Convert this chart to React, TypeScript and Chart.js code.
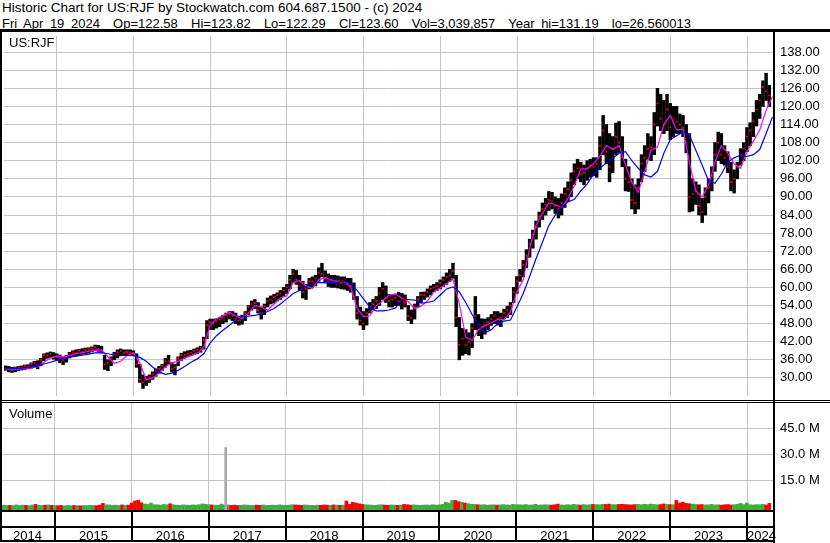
import React, { useEffect, useRef } from "react";
import { Chart, registerables } from "chart.js";

Chart.register(...registerables);

const FONT = "'Liberation Sans', Arial, Helvetica, sans-serif";
const GRID = "#c4c4c4";

const TITLE = "Historic Chart for US:RJF by Stockwatch.com 604.687.1500 - (c) 2024";
const SUBTITLE =
  "Fri Apr 19 2024  Op=122.58  Hi=123.82  Lo=122.29  Cl=123.60  Vol=3,039,857  Year hi=131.19  lo=26.560013";
const SYMBOL = "US:RJF";
const VOLUME_TITLE = "Volume";

const YEAR_LABELS = [2014, 2015, 2016, 2017, 2018, 2019, 2020, 2021, 2022, 2023, 2024];
const YEAR_BOUNDARIES = [2015, 2016, 2017, 2018, 2019, 2020, 2021, 2022, 2023, 2024];
const PRICE_TICKS = [30, 36, 42, 48, 54, 60, 66, 72, 78, 84, 90, 96, 102, 108, 114, 120, 126, 132, 138];
const VOLUME_TICKS = [15, 30, 45];

// time axis (decimal years) and value ranges
const T_START = 2014.3107;
const T_END = 2024.3381;
const PERIODS_PER_YEAR = 24; // semi-monthly bars
const PRICE_MIN = 24.0;
const PRICE_MAX = 143.35;
const VOL_MIN = -2.02;
const VOL_MAX = 59.7;

// semi-monthly high / low / close, by year
const HIGH_2014 = [34, 33.8, 33.5, 33.6, 33.8, 34, 34.3, 34.4, 35, 35.5, 35.7, 36.5, 38, 38.3, 38.6, 38.4, 38];
const LOW_2014 = [32.5, 32, 31.8, 32, 32.4, 32.6, 32.8, 33, 33.2, 33.5, 33, 34, 35.7, 36.5, 36.8, 36.2, 35.8];
const CLOSE_2014 = [33, 33, 32.6, 33.2, 33.4, 33.5, 34, 33.6, 34.5, 35, 34.2, 36, 37.5, 37.4, 38, 37, 37.2];

const HIGH_2015 = [37.6, 37, 37.5, 38.5, 39, 39.3, 39.5, 39.7, 39.9, 40, 40.3, 40.9, 40.8, 40.5, 37.5, 36, 37, 38.5, 39.3, 39.6, 39.3, 39.3, 39.3, 39];
const LOW_2015 = [35, 34.4, 35.2, 36.6, 37, 37.2, 37.5, 37.8, 38, 38.2, 38.6, 39, 38.8, 38.3, 32.8, 32.4, 34, 36, 36.6, 37.3, 37.5, 37.6, 37.8, 37.4];
const CLOSE_2015 = [36.2, 36, 37, 37.8, 38.4, 38.2, 39, 38.6, 39.2, 39.5, 39.8, 40.2, 39.6, 39, 34.5, 35, 36.5, 37.8, 38.5, 38.9, 38.3, 38.6, 38.5, 38];

const HIGH_2016 = [38, 34.5, 31, 30.5, 31, 32, 33, 33.8, 34.5, 36.5, 37.5, 35, 34.5, 37, 38.2, 38.7, 39, 39.2, 39.6, 40, 40.5, 43.5, 49, 49.5];
const LOW_2016 = [33.5, 28.5, 26.5, 27.5, 28.5, 29.5, 30.5, 31.5, 32.5, 33.5, 34.5, 32, 31, 34, 35.8, 36.5, 37, 37.5, 37.8, 38, 38.5, 39.5, 43, 46];
const CLOSE_2016 = [34.5, 29.5, 28.5, 29.5, 30.2, 31.2, 32.3, 33, 34, 35.5, 35.5, 33, 33.5, 36.5, 37.5, 37.5, 38, 38.4, 39, 39.3, 39.8, 42.5, 47.5, 48.5];

const HIGH_2017 = [49.5, 49.6, 50, 50.8, 51.5, 52, 52, 51.5, 50.5, 50.8, 52, 54, 55.5, 56, 55, 53.5, 54.5, 56.5, 57.2, 57.7, 58.2, 59, 60, 61];
const LOW_2017 = [46, 46.5, 47, 48, 48.5, 49.5, 49, 48, 47.5, 47.8, 49, 51, 52.5, 53, 51.5, 49.5, 51, 53.5, 54.5, 54.8, 55.5, 56, 57, 58];
const CLOSE_2017 = [48.2, 48.8, 49.3, 50, 50.8, 51.2, 50.6, 49.5, 49, 50, 51.5, 53.5, 54.5, 54.8, 52.5, 51.5, 53.8, 55.5, 56, 56.8, 57.5, 58, 59, 60];

const HIGH_2018 = [64, 66, 65.6, 64, 62, 61, 63, 63.5, 64, 66.5, 68, 65.5, 64.5, 64, 64, 63.8, 63.5, 63.5, 63, 63, 61.5, 57, 53.5, 52];
const LOW_2018 = [59.5, 61.5, 61, 59, 56.5, 56, 59.5, 60, 60.5, 62, 63.5, 61.5, 60.3, 60, 60, 59.8, 59.5, 59.4, 59, 58.4, 56, 49.5, 47.5, 46];
const CLOSE_2018 = [62.5, 64.5, 62.5, 60.5, 58.5, 59.5, 62, 62, 63, 65, 64.5, 63, 62, 62.5, 61.8, 62, 61.5, 61.8, 61, 60.5, 57, 51.5, 49, 48];

const HIGH_2019 = [53, 55, 56, 57, 60, 61.6, 60.5, 57.7, 57.5, 57.8, 58.4, 58, 57.5, 54, 52.5, 54.5, 57, 58.4, 58.5, 59.5, 60.5, 61, 61.6, 62.5];
const LOW_2019 = [47.5, 51.5, 52.5, 53, 54, 56, 55, 53.5, 53.5, 54, 54, 52.8, 53.5, 49, 48, 49.5, 53.5, 55, 56, 56.8, 57.5, 58.5, 59, 59.5];
const CLOSE_2019 = [51.5, 53.5, 54.5, 55.5, 58, 59.5, 56.5, 55.5, 56, 56.5, 55.5, 56, 55, 50.5, 50, 53.5, 56, 57.5, 57.5, 58.5, 59.5, 60, 60.5, 61.5];

const HIGH_2020 = [63.5, 64.8, 66, 68, 64, 50, 46.4, 46, 45, 48, 57, 51, 49.6, 49.5, 50, 51, 52, 52, 51.5, 52.8, 53.8, 55, 60, 63.6];
const LOW_2020 = [60.3, 61, 62, 63, 47, 36, 37.5, 38, 37.6, 40, 46, 44, 43, 44.5, 46, 47.4, 48, 47.5, 47, 49.6, 50, 51, 55, 58];
const CLOSE_2020 = [62.5, 63.5, 64, 65.5, 50, 41, 43, 41, 42, 46.5, 50.5, 46, 47, 47.5, 48.5, 49.5, 50.5, 49.5, 50, 51.5, 52.5, 54, 58.5, 62];

const HIGH_2021 = [66, 69, 72.5, 76, 79, 82, 85, 88, 89.5, 91.8, 91.5, 90, 89.5, 91, 93, 95, 98, 101, 102.5, 101.5, 100.6, 102, 102.5, 103];
const LOW_2021 = [62, 63.5, 66.5, 70, 73, 76, 80, 82.5, 84, 85.5, 86, 84.5, 83, 84, 86.5, 88.5, 90, 94, 96, 95, 94, 95.5, 96.5, 97];
const CLOSE_2021 = [64, 67.5, 70.5, 74.5, 77.5, 80, 83.5, 86, 87.5, 89, 88.5, 87, 86, 88, 91, 92.5, 95.5, 98.5, 99.5, 97.5, 98, 99.5, 100.5, 100];

const HIGH_2022 = [103, 110, 117, 114, 111, 110, 114.5, 115, 110, 102.5, 100, 96, 94, 96, 104, 107, 111, 110, 118, 126, 124, 122, 124, 121];
const LOW_2022 = [96.5, 99, 104, 101, 95, 98, 104, 104.7, 100, 92, 91.8, 86, 84.4, 86, 95, 98.4, 102.5, 102, 104, 113.5, 112, 111, 112, 109];
const CLOSE_2022 = [101, 107, 112, 105, 100, 106, 110, 108, 103, 96, 95, 89, 88, 93, 101, 103, 106, 106.5, 114, 121, 116, 114, 119, 113];

const HIGH_2023 = [120, 120, 117.5, 117, 114, 111, 96, 95, 94, 89.5, 93, 96, 100, 108, 111.5, 111, 107, 105, 101.5, 99, 101.5, 106, 108, 113];
const LOW_2023 = [110, 111, 111, 110, 104.6, 85, 85.3, 87.5, 84, 81.5, 84, 88, 92, 98.5, 102, 101, 100.5, 98, 92, 91.3, 96, 100.5, 102, 105];
const CLOSE_2023 = [116, 115, 114, 113, 108, 90, 91, 92, 87, 85, 90, 93, 97, 104, 108, 104, 103, 100, 95, 96, 100, 104, 106, 110];

const HIGH_2024 = [114.6, 118, 122, 124, 128.5, 131, 127];
const LOW_2024 = [107, 110, 113.5, 116, 120, 122, 120];
const CLOSE_2024 = [112, 115, 119, 122, 126.5, 125, 123.6];

// volume (millions), by year
const VOL_2014 = [0.8, 0.6, 0.7, 0.5, 0.9, 0.6, 0.8, 0.7, 0.5, 0.9, 1.2, 0.7, 0.6, 0.8, 0.9, 0.7, 0.6];
const VOL_2015 = [0.5, 0.6, 0.4, 0.7, 0.5, 0.6, 0.5, 0.4, 0.6, 0.5, 0.7, 0.6, 0.5, 0.8, 1.8, 1.0, 0.9, 0.7, 0.8, 0.6, 0.9, 0.7, 0.8, 2.0];
const VOL_2016 = [3.2, 3.6, 2.2, 1.5, 1.2, 2.0, 1.0, 1.0, 0.8, 1.2, 1.0, 1.6, 1.0, 0.8, 0.7, 0.9, 0.8, 0.7, 0.9, 0.8, 1.0, 1.5, 1.3, 1.0];
const VOL_2017 = [0.9, 0.8, 0.7, 1.4, 0.8, 0.9, 0.7, 0.8, 0.6, 0.7, 0.9, 0.8, 0.7, 0.6, 0.8, 0.7, 0.9, 0.6, 0.7, 0.8, 0.7, 0.9, 0.8, 0.7];
const VOL_2018 = [0.8, 1.0, 0.9, 0.8, 0.7, 0.9, 0.8, 0.7, 0.6, 0.8, 0.7, 0.9, 0.8, 0.7, 0.9, 0.8, 0.7, 0.8, 3.2, 1.2, 2.4, 2.0, 1.6, 1.2];
const VOL_2019 = [1.0, 0.9, 0.8, 0.7, 0.9, 1.0, 0.8, 0.7, 0.9, 0.8, 0.7, 0.8, 1.2, 1.0, 0.8, 0.9, 0.8, 0.7, 0.8, 0.9, 0.8, 1.0, 0.8, 0.9];
const VOL_2020 = [1.2, 2.5, 2.0, 3.5, 3.5, 2.8, 2.5, 2.0, 1.6, 1.3, 1.2, 1.0, 0.9, 1.0, 0.8, 0.9, 1.0, 0.8, 0.9, 1.1, 0.9, 0.8, 1.2, 1.0];
const VOL_2021 = [1.0, 0.9, 1.1, 0.8, 0.9, 1.3, 0.8, 0.9, 1.0, 0.9, 0.8, 1.0, 1.4, 0.9, 0.8, 1.0, 0.9, 1.2, 1.0, 0.8, 1.1, 0.9, 1.0, 1.2];
const VOL_2022 = [1.1, 1.0, 1.3, 1.2, 1.4, 1.1, 1.0, 1.2, 1.3, 1.1, 1.0, 0.9, 1.1, 1.2, 1.0, 1.3, 1.1, 1.4, 1.2, 1.0, 1.1, 1.5, 1.2, 1.1];
const VOL_2023 = [1.0, 3.5, 2.0, 2.5, 1.8, 1.6, 1.4, 1.2, 1.0, 1.1, 0.9, 1.0, 1.2, 0.9, 1.0, 0.8, 1.0, 1.1, 0.9, 1.0, 1.2, 1.8, 1.1, 2.0];
const VOL_2024 = [1.0, 0.9, 1.1, 1.0, 1.2, 0.9, 1.8];

// one unusual single-day volume (grey bar) in 2017
const SPIKE_TIME = 2017.22;
const SPIKE_VOL = 34.0;

// moving averages, monthly samples
const MA_FAST = [
  32.8, 32.8, 32.9, 33.1, 33.3, 33.6, 35.2, 36.6, 37.2, 37.0,
  37.4, 38.0, 38.4, 38.8, 39.2, 39.2, 37.0, 34.8, 35.5, 37.4,
  38.3, 35.0, 29.4, 30.0, 31.5, 33.7, 35.0, 35.5, 36.6, 37.4,
  38.2, 40.0, 47.5, 49.6, 50.6, 51.8, 50.6, 49.7, 51.5, 54.0,
  53.5, 52.4, 54.5, 56.5, 57.2, 61.6, 62.2, 60.5, 59.6, 62.5,
  63.3, 62.3, 62.0, 62.0, 60.0, 53.0, 50.3, 50.6, 53.9, 55.5,
  57.5, 57.8, 56.5, 55.3, 52.9, 53.8, 55.5, 58.5, 59.8, 61.3,
  62.8, 54.5, 43.5, 42.5, 46.0, 47.3, 48.3, 49.4, 49.3, 51.9,
  58.5, 62.6, 73.0, 80.5, 84.5, 88.0, 87.5, 86.5, 89.5, 93.8,
  99.3, 99.3, 101.0, 103.5, 107.0, 105.8, 107.0, 100.6, 94.8, 91.5,
  98.3, 105.5, 106.5, 114.0, 117.0, 112.2, 112.5, 101.5, 92.0, 90.0,
  94.0, 101.5, 107.0, 104.5, 101.0, 99.5, 105.0, 108.5, 112.2, 118.7,
  123.3,
];
const MA_SLOW = [
  33.0, 33.1, 33.2, 33.3, 33.6, 34.0, 34.6, 35.2, 35.8, 36.4,
  36.9, 37.2, 37.5, 37.9, 38.3, 38.4, 38.0, 37.6, 37.5, 37.5,
  37.4, 36.8, 35.5, 33.6, 32.0, 31.2, 31.6, 32.5, 33.8, 35.2,
  36.3, 38.0, 41.5, 44.0, 45.8, 47.4, 49.2, 50.2, 50.5, 50.7,
  51.2, 52.0, 53.0, 54.5, 56.2, 58.0, 59.0, 60.3, 61.3, 61.6,
  61.6, 61.6, 61.8, 62.0, 61.3, 59.0, 56.2, 53.5, 52.2, 52.2,
  52.5, 53.2, 56.0, 56.0, 55.8, 54.8, 55.0, 55.5, 57.5, 59.5,
  60.2, 58.5, 55.0, 51.0, 47.5, 45.0, 46.0, 48.0, 48.8, 49.2,
  53.5, 58.0, 63.6, 69.5, 75.0, 80.5, 84.0, 86.8, 88.3, 89.2,
  92.0, 94.3, 97.5, 99.6, 101.2, 102.8, 104.5, 105.0, 102.0, 99.5,
  97.3, 96.6, 98.5, 104.5, 109.0, 110.3, 111.5, 110.5, 105.5, 100.5,
  95.3, 94.5, 97.6, 101.5, 103.0, 103.8, 103.4, 104.0, 105.7, 111.0,
  116.5,
];

const HIGHS = [HIGH_2014, HIGH_2015, HIGH_2016, HIGH_2017, HIGH_2018, HIGH_2019, HIGH_2020, HIGH_2021, HIGH_2022, HIGH_2023, HIGH_2024].flat();
const LOWS = [LOW_2014, LOW_2015, LOW_2016, LOW_2017, LOW_2018, LOW_2019, LOW_2020, LOW_2021, LOW_2022, LOW_2023, LOW_2024].flat();
const CLOSES = [CLOSE_2014, CLOSE_2015, CLOSE_2016, CLOSE_2017, CLOSE_2018, CLOSE_2019, CLOSE_2020, CLOSE_2021, CLOSE_2022, CLOSE_2023, CLOSE_2024].flat();
const VOLUMES = [VOL_2014, VOL_2015, VOL_2016, VOL_2017, VOL_2018, VOL_2019, VOL_2020, VOL_2021, VOL_2022, VOL_2023, VOL_2024].flat();

// layout (pixels)
const W = 830;
const H = 543;
const PLOT_LEFT = 2;
const PLOT_RIGHT = 773;
const AXIS_W = W - PLOT_RIGHT;
const PRICE_TOP = 32;
const PRICE_H = 368;
const VOL_TOP = 403;
const VOL_H = 107;

const periodTime = (i: number) => T_START + (i + 0.5) / PERIODS_PER_YEAR;
const maTime = (j: number) => T_START + (2 * j + 0.5) / PERIODS_PER_YEAR;
const timeToPx = (t: number) => PLOT_LEFT + ((t - T_START) / (T_END - T_START)) * (PLOT_RIGHT - PLOT_LEFT);

function xScale(): any {
  return {
    type: "linear",
    min: T_START,
    max: T_END,
    offset: false,
    afterBuildTicks: (s: any) => {
      s.ticks = YEAR_BOUNDARIES.map((v) => ({ value: v }));
    },
    ticks: { display: false },
    grid: { color: GRID, lineWidth: 1, drawTicks: false, offset: false },
    border: { display: false },
    afterFit: (s: any) => {
      s.height = 0;
      s.paddingLeft = 0;
      s.paddingRight = 0;
    },
  };
}

function yScale(min: number, max: number, ticks: number[], fmt: (v: number) => string): any {
  return {
    type: "linear",
    position: "right",
    min,
    max,
    afterBuildTicks: (s: any) => {
      s.ticks = ticks.map((v) => ({ value: v }));
    },
    ticks: {
      color: "#000",
      font: { family: FONT, size: 13 },
      padding: 7,
      autoSkip: false,
      callback: (v: any) => fmt(Number(v)),
    },
    grid: { color: GRID, lineWidth: 1, drawTicks: false },
    border: { display: false },
    afterFit: (s: any) => {
      s.width = AXIS_W;
      s.paddingTop = 0;
      s.paddingBottom = 0;
    },
  };
}

const commonOptions = {
  animation: false as const,
  responsive: false,
  maintainAspectRatio: false,
  devicePixelRatio: 1,
  layout: { padding: { left: PLOT_LEFT, right: 0, top: 0, bottom: 0 } },
  plugins: { legend: { display: false }, tooltip: { enabled: false } },
  events: [] as any[],
};

function priceConfig(): any {
  const bars = CLOSES.map((_, i) => ({ x: periodTime(i), y: [LOWS[i], HIGHS[i]] }));
  const closes = CLOSES.map((c, i) => ({ x: periodTime(i), y: c }));
  const fast = MA_FAST.map((v, j) => ({ x: maTime(j), y: v }));
  const slow = MA_SLOW.map((v, j) => ({ x: maTime(j), y: v }));
  return {
    type: "bar",
    data: {
      datasets: [
        { type: "line", data: slow, borderColor: "#0000ff", borderWidth: 1.2, pointRadius: 0, tension: 0, order: 0 },
        { type: "line", data: fast, borderColor: "#ff00ff", borderWidth: 1.2, pointRadius: 0, tension: 0, order: 1 },
        {
          type: "line",
          data: closes,
          showLine: false,
          pointStyle: "rect",
          pointRadius: 1.3,
          pointBorderWidth: 0,
          pointBackgroundColor: "#ff0000",
          order: 2,
        },
        { type: "bar", data: bars, backgroundColor: "#000000", barThickness: 2.8, grouped: false, order: 3 },
      ],
    },
    options: {
      ...commonOptions,
      scales: {
        x: xScale(),
        y: yScale(PRICE_MIN, PRICE_MAX, PRICE_TICKS, (v) => v.toFixed(2)),
      },
    },
  };
}

function volumeConfig(): any {
  const bars = VOLUMES.map((v, i) => ({ x: periodTime(i), y: [VOL_MIN, v] }));
  const colors = VOLUMES.map((_, i) => (i > 0 && CLOSES[i] < CLOSES[i - 1] ? "#ff0000" : "#3cae3c"));
  return {
    type: "bar",
    data: {
      datasets: [
        {
          type: "bar",
          data: [{ x: SPIKE_TIME, y: [VOL_MIN, SPIKE_VOL] }],
          backgroundColor: "#a8a8a8",
          barThickness: 2,
          grouped: false,
          order: 0,
        },
        { type: "bar", data: bars, backgroundColor: colors, barThickness: 3, grouped: false, order: 1 },
      ],
    },
    options: {
      ...commonOptions,
      scales: {
        x: xScale(),
        y: yScale(VOL_MIN, VOL_MAX, VOLUME_TICKS, (v) => `${v.toFixed(1)} M`),
      },
    },
  };
}

const textStyle: React.CSSProperties = {
  position: "absolute",
  fontFamily: FONT,
  fontSize: 13,
  lineHeight: "13px",
  whiteSpace: "pre",
  color: "#000",
  margin: 0,
};

function Box(props: { x: number; y: number; w: number; h: number }) {
  return (
    <div
      style={{ position: "absolute", left: props.x, top: props.y, width: props.w, height: props.h, background: "#000" }}
    />
  );
}

export default function App() {
  const priceRef = useRef<HTMLCanvasElement>(null);
  const volRef = useRef<HTMLCanvasElement>(null);

  useEffect(() => {
    const pc = new Chart(priceRef.current as HTMLCanvasElement, priceConfig());
    const vc = new Chart(volRef.current as HTMLCanvasElement, volumeConfig());
    return () => {
      pc.destroy();
      vc.destroy();
    };
  }, []);

  const yearCells = YEAR_LABELS.map((y) => {
    const a = Math.max(timeToPx(y), 0);
    const b = Math.min(timeToPx(y + 1), PLOT_RIGHT);
    return { y, a, b };
  });

  return (
    <div style={{ position: "fixed", left: 0, top: 0, width: W, height: H, background: "#fff", overflow: "hidden" }}>
      <div style={{ ...textStyle, left: 2, top: 1.3, fontSize: 13.5, lineHeight: "13.5px" }}>{TITLE}</div>
      <div style={{ ...textStyle, left: 2, top: 16.7, wordSpacing: 3 }}>{SUBTITLE}</div>

      <canvas
        ref={priceRef}
        width={W}
        height={PRICE_H}
        style={{ position: "absolute", left: 0, top: PRICE_TOP, width: W, height: PRICE_H }}
      />
      <canvas
        ref={volRef}
        width={W}
        height={VOL_H}
        style={{ position: "absolute", left: 0, top: VOL_TOP, width: W, height: VOL_H }}
      />

      <div style={{ ...textStyle, left: 9, top: 36 }}>{SYMBOL}</div>
      <div style={{ ...textStyle, left: 9, top: 406.5 }}>{VOLUME_TITLE}</div>

      {/* frame */}
      <Box x={0} y={29} w={W} h={3} />
      <Box x={0} y={400} w={W} h={1} />
      <Box x={0} y={402} w={W} h={1} />
      <Box x={0} y={510} w={PLOT_RIGHT} h={2} />
      <Box x={0} y={526} w={PLOT_RIGHT} h={2} />
      <Box x={0} y={540} w={PLOT_RIGHT} h={2} />
      <Box x={0} y={29} w={2} h={513} />
      <Box x={PLOT_RIGHT} y={29} w={2} h={514} />
      {YEAR_BOUNDARIES.map((y) => (
        <Box key={y} x={Math.round(timeToPx(y)) - 1} y={510} w={2} h={32} />
      ))}

      {yearCells.map((c) => (
        <div
          key={c.y}
          style={{ ...textStyle, left: c.a, top: 528.5, width: c.b - c.a, textAlign: "center" }}
        >
          {String(c.y)}
        </div>
      ))}
    </div>
  );
}
